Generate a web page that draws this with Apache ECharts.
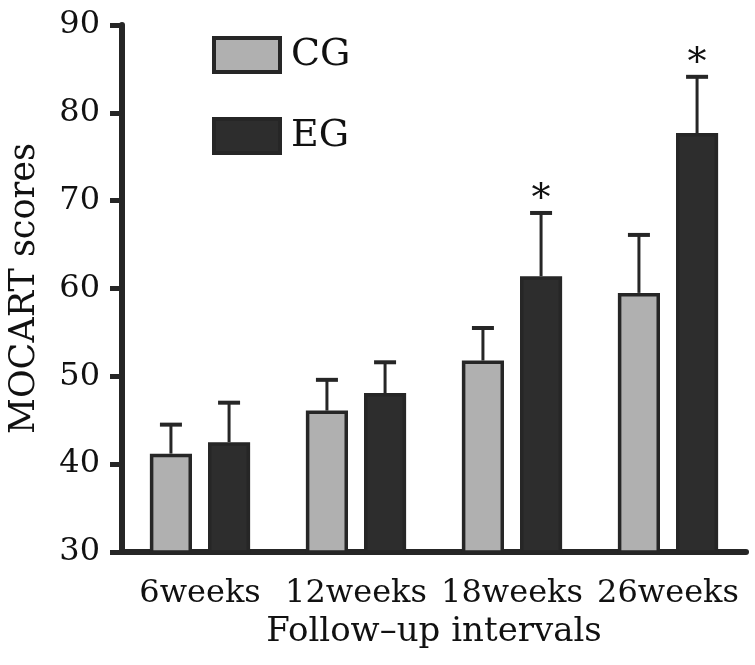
<!DOCTYPE html>
<html>
<head>
<meta charset="utf-8">
<script src="https://cdn.jsdelivr.net/npm/echarts@6/dist/echarts.min.js"></script>
<style>
  html, body { margin: 0; padding: 0; background: #fff; }
  #chart { width: 755px; height: 665px; }
</style>
</head>
<body>
<div id="chart"></div>
<script>
// values
var categories = ['6weeks', '12weeks', '18weeks', '26weeks']
var cgMean = [41.2, 46.1, 51.8, 59.5]
var cgSD = [3.3, 3.5, 3.7, 6.6]
var egMean = [42.5, 48.1, 61.4, 77.7]
var egSD = [4.5, 3.5, 7.2, 6.4]
var egStar = [0, 0, 1, 1]
var yTicks = { min: 30, max: 90, interval: 10 }

var FONT = 'DejaVu Serif'
var INK = '#262626'
var BAR_W = 0.27
var BAR_GAP = 0.38

function errData (mean, sd, star) {
  return mean.map(function (m, i) {
    return [i, m, sd[i], star ? star[i] : 0]
  })
}

function errRender (side) {
  return function (params, api) {
    var i = api.value(0)
    var top = api.coord([i, api.value(1) + api.value(2)])
    var base = api.coord([i, api.value(1)])
    var band = api.size([1, 0])[0]
    var bw = band * BAR_W
    var off = (bw + bw * BAR_GAP) / 2 * side
    var x = top[0] + off
    var kids = [
      {type: 'line', shape: {x1: x, y1: base[1], x2: x, y2: top[1]}, style: {stroke: INK, lineWidth: 3}},
      {type: 'line', shape: {x1: x - 11, y1: top[1], x2: x + 11, y2: top[1]}, style: {stroke: INK, lineWidth: 4}}
    ]
    if (api.value(3)) {
      kids.push({
        type: 'text',
        style: {x: x, y: top[1] + 6, text: '*', fill: '#111', font: '38px "' + FONT + '"', textAlign: 'center', textVerticalAlign: 'bottom'}
      })
    }
    return {type: 'group', children: kids}
  }
}

var chart = echarts.init(document.getElementById('chart'))
chart.setOption({
  animation: false,
  grid: {left: 122, right: 9, top: 25, bottom: 113, outerBoundsMode: 'none', containLabel: false},
  legend: {
    data: ['CG', 'EG'],
    orient: 'vertical',
    left: 207,
    top: 31,
    itemWidth: 66,
    itemHeight: 34,
    itemGap: 43,
    icon: 'rect',
    itemStyle: {borderWidth: 4},
    textStyle: {fontFamily: FONT, fontSize: 38, color: '#111', lineHeight: 34, padding: [0, 0, 0, 6]}
  },
  xAxis: {
    type: 'category',
    data: categories,
    name: 'Follow\u2013up intervals',
    nameLocation: 'middle',
    nameGap: 56,
    nameTextStyle: {fontFamily: FONT, fontSize: 34, color: '#111'},
    axisLine: {lineStyle: {color: INK, width: 6}},
    axisTick: {alignWithLabel: true, length: 12, lineStyle: {color: INK, width: 5}},
    axisLabel: {interval: 0, fontFamily: FONT, fontSize: 32, color: '#111', margin: 26}
  },
  yAxis: {
    type: 'value',
    min: yTicks.min,
    max: yTicks.max,
    interval: yTicks.interval,
    name: 'MOCART scores',
    nameLocation: 'middle',
    nameGap: 80,
    nameTextStyle: {fontFamily: FONT, fontSize: 35, color: '#111'},
    splitLine: {show: false},
    axisLine: {show: true, lineStyle: {color: INK, width: 6}},
    axisTick: {show: true, length: 12, lineStyle: {color: INK, width: 5}},
    axisLabel: {fontFamily: FONT, fontSize: 32, color: '#111', margin: 22}
  },
  series: [
    {
      name: 'CG',
      type: 'bar',
      data: cgMean,
      barWidth: (BAR_W * 100) + '%',
      barGap: (BAR_GAP * 100) + '%',
      itemStyle: {color: '#b0b0b0', borderColor: INK, borderWidth: 3.5}
    },
    {
      name: 'EG',
      type: 'bar',
      data: egMean,
      barWidth: (BAR_W * 100) + '%',
      barGap: (BAR_GAP * 100) + '%',
      itemStyle: {color: '#2d2d2d', borderColor: INK, borderWidth: 3.5}
    },
    {
      name: 'CG err',
      type: 'custom',
      renderItem: errRender(-1),
      data: errData(cgMean, cgSD),
      z: 1
    },
    {
      name: 'EG err',
      type: 'custom',
      renderItem: errRender(1),
      data: errData(egMean, egSD, egStar),
      z: 1
    }
  ]
})
</script>
</body>
</html>
